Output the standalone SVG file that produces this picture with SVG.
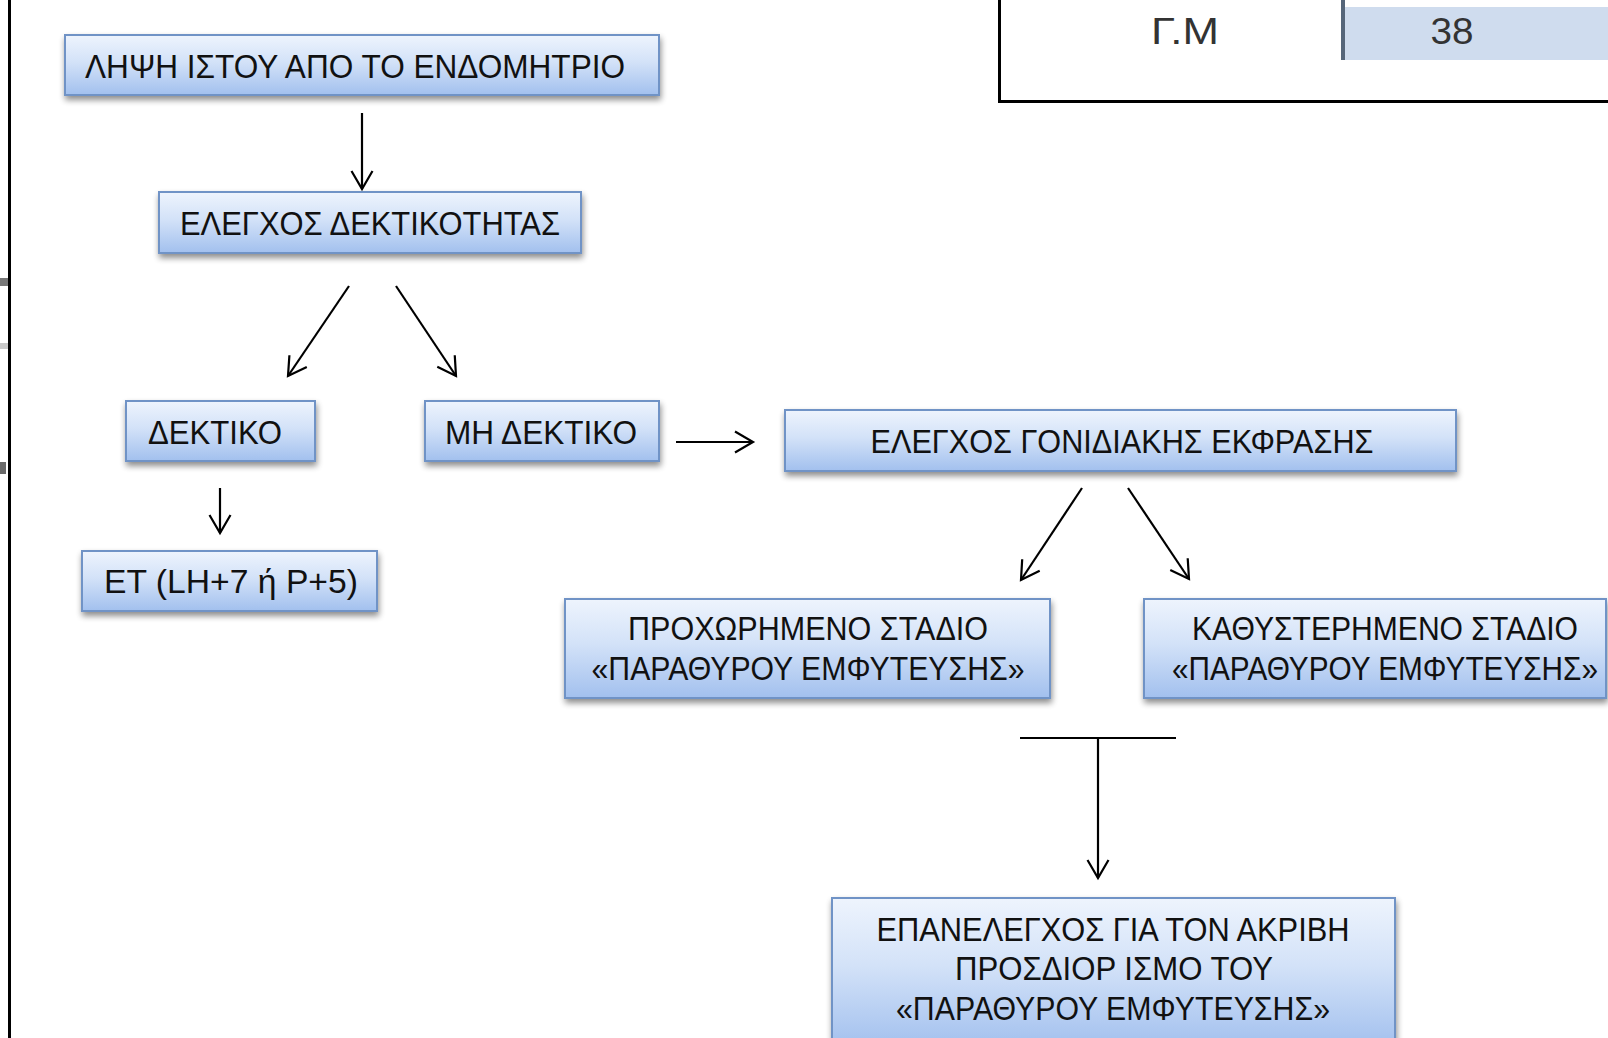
<svg xmlns="http://www.w3.org/2000/svg" width="1608" height="1038" viewBox="0 0 1608 1038">
<defs>
<linearGradient id="bg" x1="0" y1="0" x2="0" y2="1">
<stop offset="0" stop-color="#eef4fd"/>
<stop offset="0.45" stop-color="#d3e2f8"/>
<stop offset="1" stop-color="#a2c0ee"/>
</linearGradient>
<filter id="sh" x="-10%" y="-20%" width="120%" height="160%">
<feGaussianBlur in="SourceAlpha" stdDeviation="3"/>
<feOffset dx="1" dy="4" result="b"/>
<feComponentTransfer><feFuncA type="linear" slope="0.45"/></feComponentTransfer>
<feMerge><feMergeNode/><feMergeNode in="SourceGraphic"/></feMerge>
</filter>
<marker id="ah" markerUnits="userSpaceOnUse" markerWidth="40" markerHeight="40" refX="19" refY="12" orient="auto" overflow="visible">
<path d="M1,1.5 L19,12 L1,22.5" fill="none" stroke="#000" stroke-width="2.2" stroke-linejoin="miter"/>
</marker>
</defs>
<style>
.box{fill:url(#bg);stroke:#6f93c6;stroke-width:2;filter:url(#sh)}
.t{font-family:"Liberation Sans","DejaVu Sans",sans-serif;font-size:34px;fill:#111;text-anchor:middle}
.c{stroke:#000;stroke-width:2.2;fill:none}
.a{marker-end:url(#ah)}
.tbl{font-family:"Liberation Sans","DejaVu Sans",sans-serif;font-size:36px;fill:#333;text-anchor:middle}
</style>
<rect width="1608" height="1038" fill="#ffffff"/>
<g id="edge">
<rect x="0" y="278" width="8" height="8" fill="#555" opacity="0.8"/>
<rect x="0" y="343" width="8" height="6" fill="#bbb" opacity="0.8"/>
<rect x="0" y="462" width="6" height="12" fill="#444" opacity="0.8"/>
<line x1="9.5" y1="0" x2="9.5" y2="1038" stroke="#000" stroke-width="3"/>
</g>
<g id="table">
<rect x="1345" y="7" width="263" height="53" fill="#cfdcee"/>
<line x1="1343" y1="0" x2="1343" y2="60" stroke="#56667a" stroke-width="4"/>
<path d="M999.5,0 V101.5 H1608" fill="none" stroke="#000" stroke-width="3"/>
<text class="tbl" x="1185" y="44" textLength="68" lengthAdjust="spacingAndGlyphs">Γ.Μ</text>
<text class="tbl" x="1452" y="44" textLength="43" lengthAdjust="spacingAndGlyphs">38</text>
</g>
<g id="connectors">
<line class="c a" x1="362" y1="113" x2="362" y2="189"/>
<line class="c a" x1="349" y1="286" x2="288" y2="376"/>
<line class="c a" x1="396" y1="286" x2="456" y2="376"/>
<line class="c a" x1="676" y1="442" x2="753" y2="442"/>
<line class="c a" x1="220" y1="488" x2="220" y2="533"/>
<line class="c a" x1="1082" y1="488" x2="1021" y2="580"/>
<line class="c a" x1="1128" y1="488" x2="1189" y2="579"/>
<line class="c" x1="1020" y1="738" x2="1176" y2="738"/>
<line class="c a" x1="1098" y1="738" x2="1098" y2="878"/>
</g>
<g id="n1"><rect class="box" x="65" y="35" width="594" height="60"/>
<text class="t" x="355" y="78" textLength="540" lengthAdjust="spacingAndGlyphs">ΛΗΨΗ ΙΣΤΟΥ ΑΠΟ ΤΟ ΕΝΔΟΜΗΤΡΙΟ</text></g>
<g id="n2"><rect class="box" x="159" y="192" width="422" height="61"/>
<text class="t" x="370" y="235" textLength="380" lengthAdjust="spacingAndGlyphs">ΕΛΕΓΧΟΣ ΔΕΚΤΙΚΟΤΗΤΑΣ</text></g>
<g id="n3"><rect class="box" x="126" y="401" width="189" height="60"/>
<text class="t" x="215" y="444" textLength="134" lengthAdjust="spacingAndGlyphs">ΔΕΚΤΙΚΟ</text></g>
<g id="n4"><rect class="box" x="425" y="401" width="234" height="60"/>
<text class="t" x="541" y="444" textLength="192" lengthAdjust="spacingAndGlyphs">ΜΗ ΔΕΚΤΙΚΟ</text></g>
<g id="n5"><rect class="box" x="785" y="410" width="671" height="61"/>
<text class="t" x="1122" y="453" textLength="503" lengthAdjust="spacingAndGlyphs">ΕΛΕΓΧΟΣ ΓΟΝΙΔΙΑΚΗΣ ΕΚΦΡΑΣΗΣ</text></g>
<g id="n6"><rect class="box" x="82" y="551" width="295" height="60"/>
<text class="t" x="231" y="593" textLength="254" lengthAdjust="spacingAndGlyphs">ΕΤ (LH+7 ή P+5)</text></g>
<g id="n7"><rect class="box" x="565" y="599" width="485" height="99"/>
<text class="t" x="808" y="640" textLength="360" lengthAdjust="spacingAndGlyphs">ΠΡΟΧΩΡΗΜΕΝΟ ΣΤΑΔΙΟ</text>
<text class="t" x="808" y="680" textLength="433" lengthAdjust="spacingAndGlyphs">«ΠΑΡΑΘΥΡΟΥ ΕΜΦΥΤΕΥΣΗΣ»</text></g>
<g id="n8"><rect class="box" x="1144" y="599" width="462" height="99"/>
<text class="t" transform="scale(0.87,1)" x="1591.95" y="640" textLength="443.7" lengthAdjust="spacingAndGlyphs">ΚΑΘΥΣΤΕΡΗΜΕΝΟ ΣΤΑΔΙΟ</text>
<text class="t" transform="scale(0.86,1)" x="1610.47" y="680" textLength="495.3" lengthAdjust="spacingAndGlyphs">«ΠΑΡΑΘΥΡΟΥ ΕΜΦΥΤΕΥΣΗΣ»</text></g>
<g id="n9"><rect class="box" x="832" y="898" width="563" height="150"/>
<text class="t" x="1113" y="941" textLength="473" lengthAdjust="spacingAndGlyphs">ΕΠΑΝΕΛΕΓΧΟΣ ΓΙΑ ΤΟΝ ΑΚΡΙΒΗ</text>
<text class="t" x="1114" y="980" textLength="318" lengthAdjust="spacingAndGlyphs">ΠΡΟΣΔΙΟΡ ΙΣΜΟ ΤΟΥ</text>
<text class="t" x="1113" y="1020" textLength="434" lengthAdjust="spacingAndGlyphs">«ΠΑΡΑΘΥΡΟΥ ΕΜΦΥΤΕΥΣΗΣ»</text></g>
</svg>
